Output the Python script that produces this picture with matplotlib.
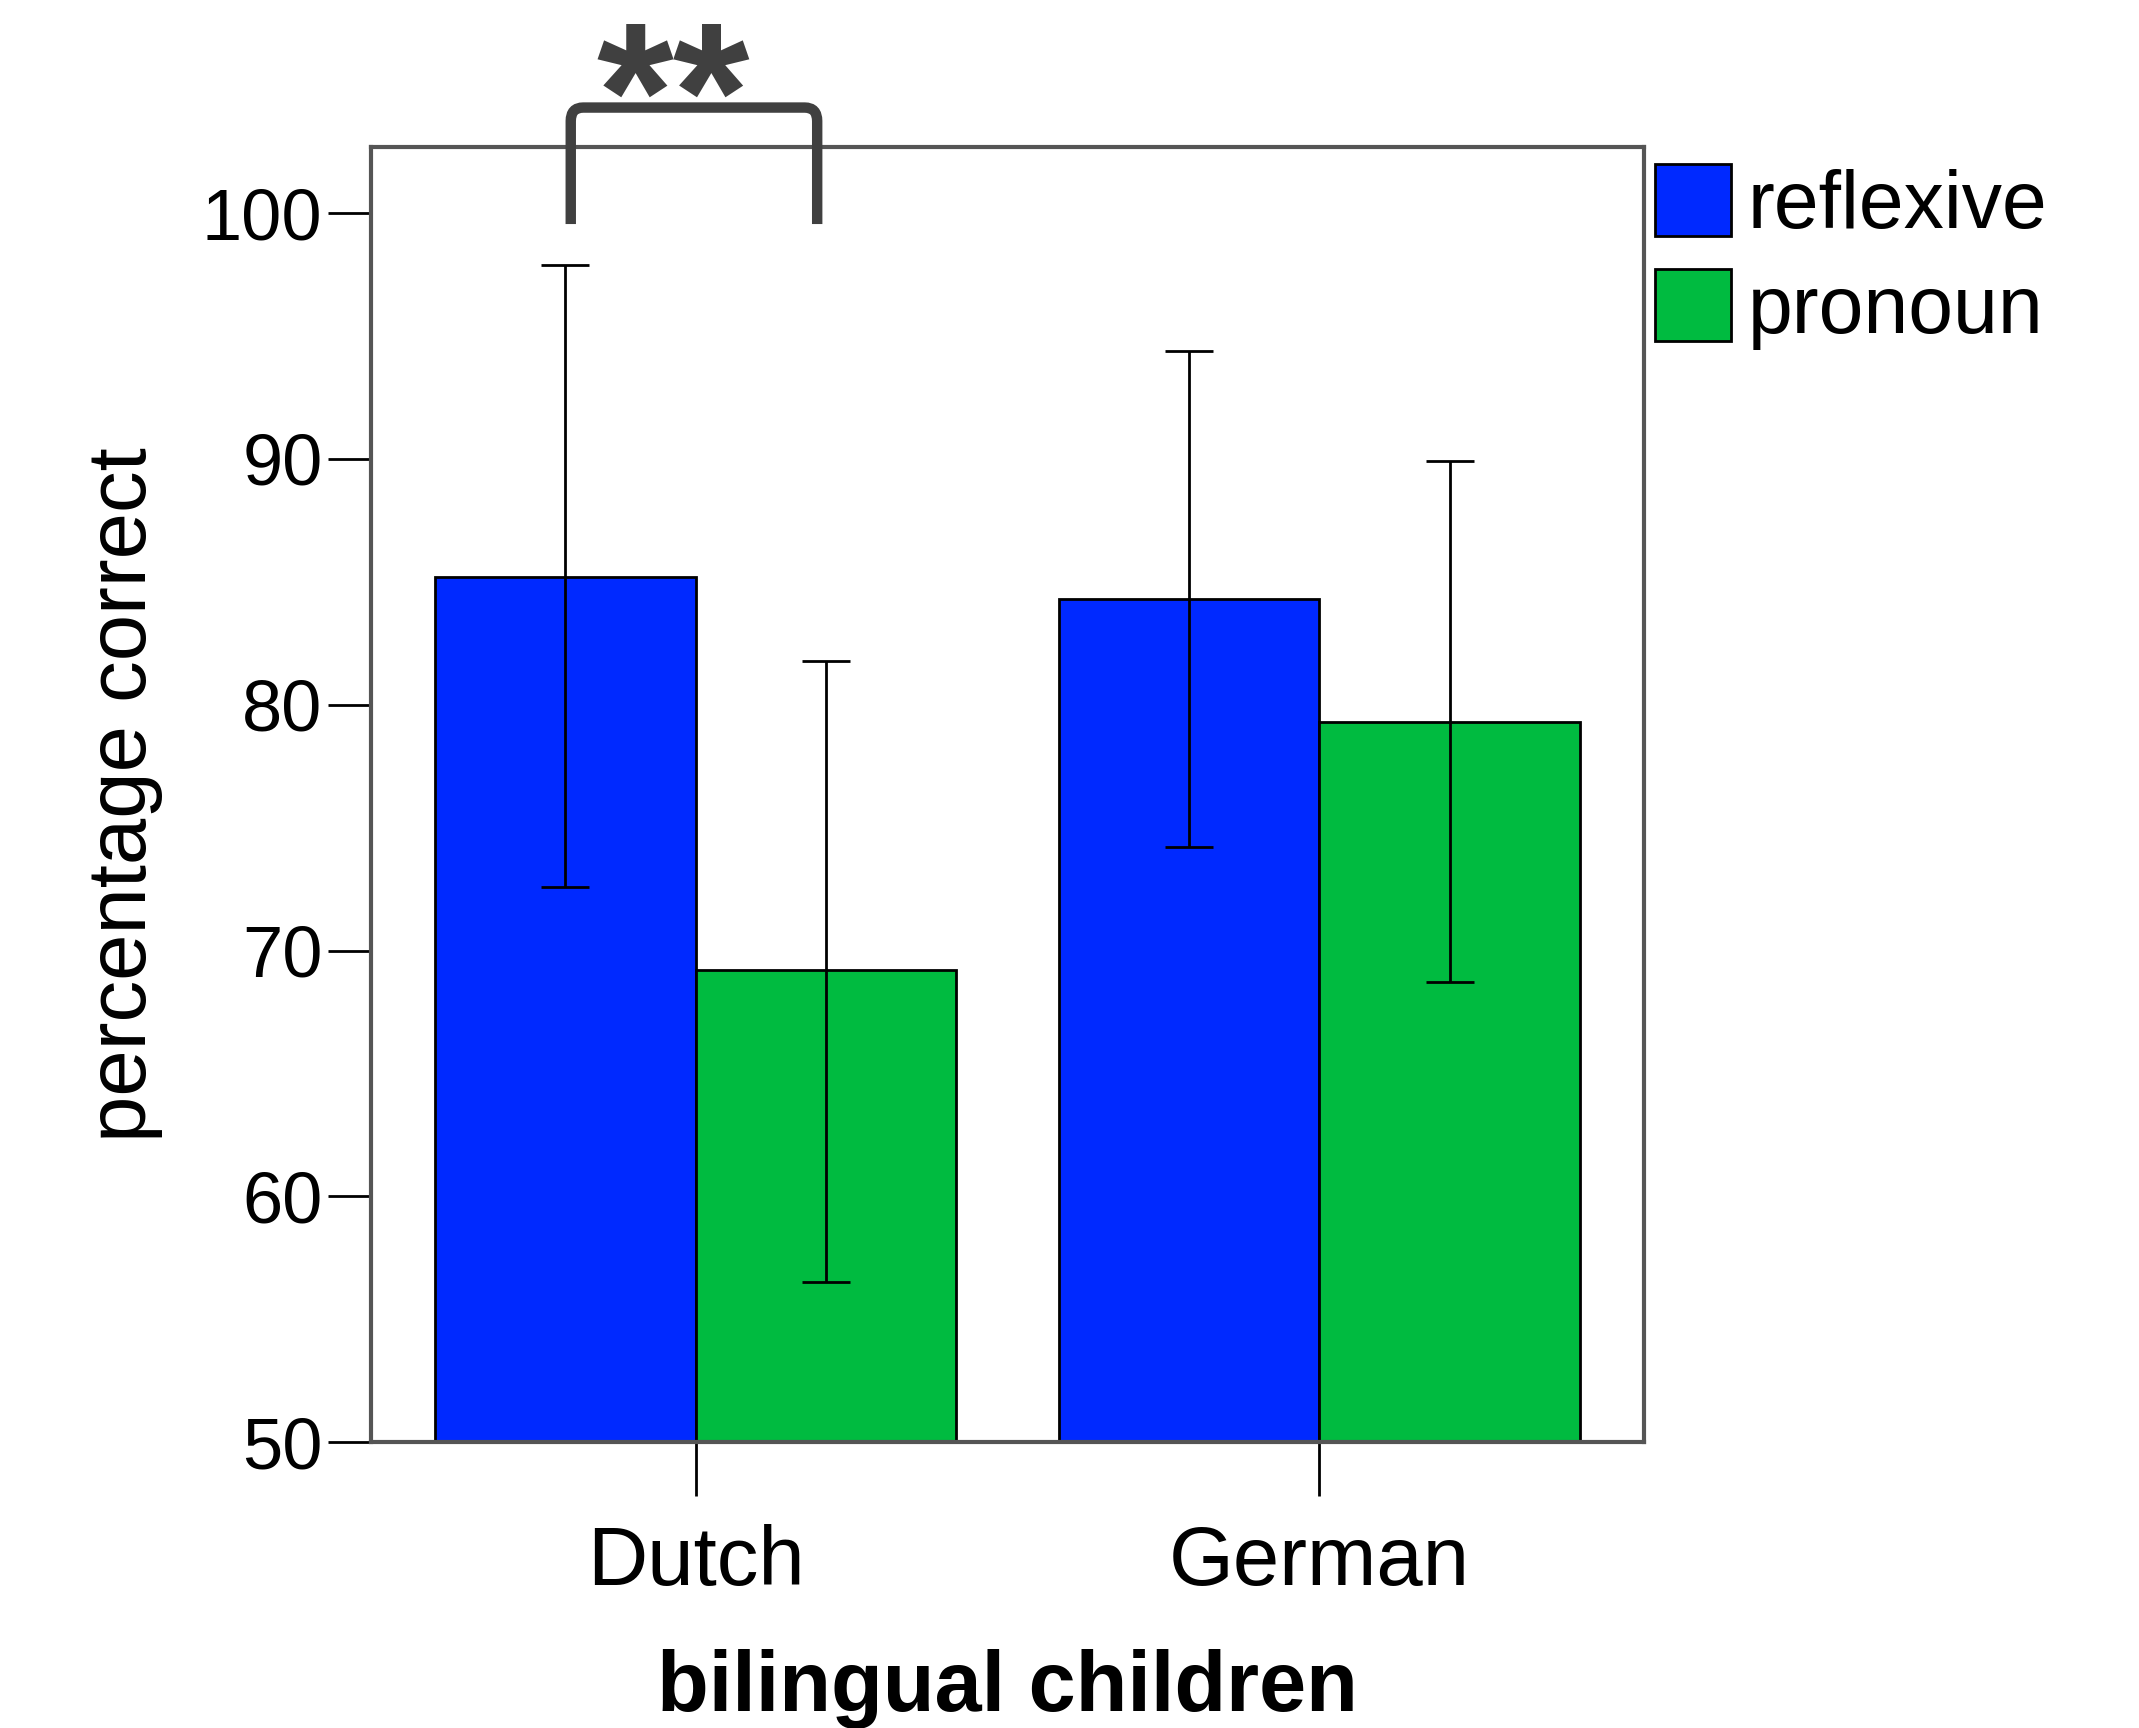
import numpy as np
import matplotlib.pyplot as plt
from matplotlib.patches import Patch, PathPatch
from matplotlib.path import Path

plt.rcParams['font.family'] = ['Liberation Sans', 'DejaVu Sans']

# data
groups = ['Dutch', 'German']
reflexive = [85.2, 84.3]
pronoun = [69.2, 79.3]
reflexive_lo = [72.6, 74.2]
reflexive_hi = [97.9, 94.4]
pronoun_lo = [56.5, 68.7]
pronoun_hi = [81.8, 89.9]

blue = '#0029ff'
green = '#00bb40'
dark = '#404040'

fig = plt.figure(figsize=(21.39, 17.28), dpi=100)
ax = fig.add_axes([0.1735, 0.1655, 0.595, 0.7495])

x = np.arange(len(groups))
w = 0.418

# bars
ax.bar(x - w / 2, reflexive, w, color=blue, edgecolor='black', linewidth=2, zorder=2)
ax.bar(x + w / 2, pronoun, w, color=green, edgecolor='black', linewidth=2, zorder=2)

# error bars
r = np.array(reflexive)
p = np.array(pronoun)
ax.errorbar(x - w / 2, r, yerr=[r - np.array(reflexive_lo), np.array(reflexive_hi) - r],
            fmt='none', ecolor='black', elinewidth=2, capsize=17, capthick=2, zorder=3)
ax.errorbar(x + w / 2, p, yerr=[p - np.array(pronoun_lo), np.array(pronoun_hi) - p],
            fmt='none', ecolor='black', elinewidth=2, capsize=17, capthick=2, zorder=3)

ax.set_xlim(-0.52, 1.52)
ax.set_ylim(50, 102.7)
ax.set_yticks([50, 60, 70, 80, 90, 100])
ax.set_xticks(x)
ax.set_xticklabels(groups)

ax.tick_params(axis='y', length=31, width=2, labelsize=52, pad=4)
ax.tick_params(axis='x', length=39, width=2, labelsize=60, pad=20)
for s in ax.spines.values():
    s.set_linewidth(3)
    s.set_color('#555555')

ax.set_ylabel('percentage correct', fontsize=60, labelpad=28)
ax.set_xlabel('bilingual children', fontsize=61, fontweight='bold', labelpad=34)

# legend
handles = [Patch(facecolor=blue, edgecolor='black', linewidth=2, label='reflexive'),
           Patch(facecolor=green, edgecolor='black', linewidth=2, label='pronoun')]
ax.legend(handles=handles, loc='upper left', bbox_to_anchor=(0.996, 0.999), frameon=False,
          fontsize=58, handlelength=0.95, handleheight=1.0, handletextpad=0.2,
          labelspacing=0.3, borderaxespad=0.1, borderpad=0.1)

# significance bracket with rounded corners
x0, x1, yb, yt = -0.2, 0.195, 99.56, 104.3
rx, ry = 0.02, 0.55
verts = [(x0, yb), (x0, yt - ry), (x0, yt), (x0 + rx, yt),
         (x1 - rx, yt), (x1, yt), (x1, yt - ry), (x1, yb)]
codes = [Path.MOVETO, Path.LINETO, Path.CURVE3, Path.CURVE3,
         Path.LINETO, Path.CURVE3, Path.CURVE3, Path.LINETO]
ax.add_patch(PathPatch(Path(verts, codes), facecolor='none', edgecolor=dark, lw=7.5,
                       capstyle='butt', clip_on=False, zorder=5))
fig.text(673 / 2139, 1 - 160 / 1728, '**', ha='center', va='baseline', fontsize=142,
         fontweight='bold', color=dark)

plt.savefig('out.png', dpi=100)
